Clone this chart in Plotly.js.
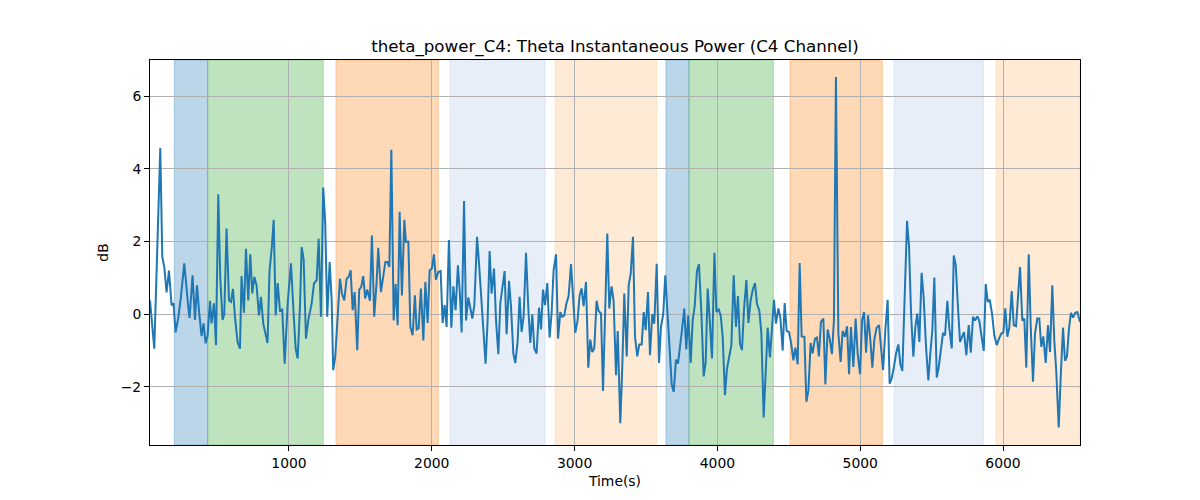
<!DOCTYPE html>
<html><head><meta charset="utf-8">
<script src="https://cdn.plot.ly/plotly-3.0.1.min.js"></script>
<style>body{margin:0;background:#fff;} #chart{width:1200px;height:500px;}</style>
</head><body><div id="chart"></div>
<script>
const chartTitle = "theta_power_C4: Theta Instantaneous Power (C4 Channel)";
const xLabel = "Time(s)";
const yLabel = "dB";
const xRange = [27, 6539];
const yRange = [-3.6, 7.0];

const times = [
27,57,99,113,127,143,160,178,192,206,225,244,267,283,295,304,325,342,356,370,379,388,402,416,430,447,458,475,489,505,519,535,547,563,580,594,608,622,640,657,668,685,699,715,729,743,757,773,790,804,820,836,850,864,879,893,907,921,937,953,970,991,1014,1033,1047,1061,1077,1089,1103,
1119,1135,1159,1175,1194,1208,1224,1240,1254,1268,1285,1299,1310,1324,1341,1357,1371,1387,1404,1418,1432,1446,1460,1478,1492,1506,1520,1534,1548,1567,1581,1597,1614,1625,1644,1661,1675,1689,1703,1717,1733,1747,1761,1775,1791,1808,1819,1836,1850,1866,1882,1894,1908,1924,1941,1955,1971,1985,2001,2015,2029,2046,2062,2076,2090,2104,2120,2137,2151,2167,2183,
2197,2209,2226,2240,2256,2270,2284,2298,2317,2331,2349,2363,2377,2391,2405,2419,2436,2450,2466,2480,2496,2510,2524,2541,2555,2571,2585,2601,2615,2629,2643,2660,2676,2690,2704,2718,2734,2751,2765,2779,2793,2809,2825,2839,2853,2870,2884,2900,2914,2928,2942,2958,2975,2991,3005,3021,3035,3049,3063,3080,3096,3110,3124,3138,3154,3168,3185,3199,3215,3229,3243,3259,3273,
3290,3302,3320,3334,3348,3365,3379,3393,3409,3423,3439,3453,3470,3484,3498,3514,3528,3544,3558,3575,3591,3605,3621,3635,3649,3663,3680,3694,3710,3724,3738,3752,3768,3782,3796,3813,3827,3841,3857,3871,3888,3904,3918,3932,3948,3962,3979,3993,4009,4023,4037,4053,4067,4081,4098,4114,4130,4144,4158,4172,4186,4203,4217,4233,4247,4263,4277,4294,4308,4324,4338,4352,4368,
4396,4410,4427,4441,4457,4471,4485,4501,4515,4532,4546,4562,4576,4590,4609,4623,4637,4653,4667,4683,4697,4711,4725,4742,4756,4772,4786,4802,4816,4830,4847,4863,4877,4894,4908,4922,4935,4952,4968,4982,4999,5013,5027,5041,5055,5071,5085,5099,5115,5132,5146,5160,5176,5192,5206,5220,5234,5251,5267,5281,5295,5311,5328,5342,5356,5372,5386,5400,5414,5430,5444,
5461,5477,5491,5505,5519,5536,5550,5564,5580,5594,5610,5624,5641,5655,5669,5683,5699,5713,5727,5743,5760,5774,5790,5804,5820,5834,5848,5865,5879,5893,5907,5923,5939,5956,5972,5988,6002,6016,6030,6044,6061,6075,6091,6105,6119,6135,6149,6163,6180,6194,6210,6224,6240,6254,6268,6282,6299,6315,6329,6345,6359,6373,6390,6404,6420,6434,6448,6462,6476,6490,6506,6520,6539
];
const power = [
0.38,-0.95,4.58,1.58,1.3,0.6,1.2,0.25,0.3,-0.5,-0.1,0.5,1.4,0.6,0.2,-0.1,1.07,-0.16,0.8,0.1,-0.35,-0.6,-0.25,-0.8,-0.6,0.37,-0.25,0.3,-0.85,3.3,1.0,-0.16,0.0,2.36,0.38,0.34,0.7,-0.07,-0.76,-0.95,1.05,0.04,1.8,0.38,1.65,0.57,1.03,0.8,-0.03,0.48,-0.26,-0.6,-0.79,1.2,1.8,2.6,-0.03,0.86,0.1,0.13,-1.36,0.3,1.4,0.0,-0.95,-1.22,0.2,1.85,1.5,
-0.67,-0.17,0.3,0.84,0.94,2.08,-0.07,3.49,2.5,-0.07,1.44,0.38,-1.54,-1.17,-0.07,0.98,0.57,0.38,0.98,1.03,1.21,0.11,0.61,-0.99,0.68,0.75,1.05,0.43,0.68,0.37,2.17,-0.07,0.89,1.83,0.61,1.03,1.44,1.44,1.3,4.53,-0.17,0.83,-0.3,2.82,0.52,2.6,1.99,2.0,-0.35,-0.58,0.52,-0.42,-0.39,0.71,-0.72,0.89,-0.24,1.21,1.26,1.65,0.95,1.17,1.19,-0.24,0.25,-0.35,2.04,-0.37,0.77,0.11,1.35,
0.57,-0.5,3.12,-0.17,0.46,0.16,-0.12,0.25,2.13,1.39,0.39,-0.53,-1.36,-0.17,1.74,0.57,1.26,-0.17,-1.1,0.31,0.71,1.19,-0.55,0.92,0.2,-1.08,-1.34,-0.76,0.48,-0.49,-0.07,1.69,0.16,-0.79,0.0,-0.94,-1.08,0.18,-0.42,0.68,0.25,0.86,-0.64,0.02,1.21,1.65,-0.67,0.06,-0.07,-0.03,0.28,0.5,1.38,0.48,-0.51,-0.17,0.52,0.71,0.22,0.89,-1.47,-0.7,-1.04,-0.94,0.37,0.09,0.02,-2.11,0.02,2.22,0.16,0.77,0.39,
-1.68,-0.46,-3.0,-1.45,0.57,-1.16,0.8,1.12,2.13,-0.62,-1.16,-0.83,-0.83,0.06,-0.44,0.61,-1.13,0.0,-0.26,1.39,-1.34,-0.35,0.02,1.07,0.02,-0.99,-1.93,-2.14,-1.25,-1.36,-0.94,-0.44,0.16,-0.97,-0.03,-1.34,-0.17,0.22,1.19,1.38,0.02,-1.71,-1.31,0.71,-0.26,-1.22,1.69,0.06,0.13,-0.03,-0.62,-2.23,-1.5,-1.22,-0.85,1.07,-0.35,0.5,-0.81,-0.99,0.11,0.94,-0.24,0.39,0.66,0.86,0.29,0.09,-0.53,-2.84,-1.45,-0.37,-1.19,
0.4,-0.26,0.16,-0.1,-1.0,0.31,-0.46,-0.49,-0.76,-1.27,-0.92,-1.38,1.41,-0.61,-0.62,-2.41,-2.11,-0.79,-1.08,-0.67,-0.64,-1.16,-0.21,-0.12,-1.93,-0.42,-0.67,-1.1,-0.17,6.53,-0.53,-1.31,-0.46,-0.62,-0.33,-1.65,-0.35,-1.45,-0.12,-1.08,-1.65,-0.17,0.06,-1.06,-0.03,-0.72,-1.47,-0.7,-0.37,-0.3,-0.9,-1.54,-0.42,0.4,-1.91,-1.77,-1.5,-1.08,-0.83,-1.38,-1.56,0.57,2.57,1.85,0.02,-1.17,-0.35,0.02,-0.76,1.14,0.48,
-0.9,-1.82,-1.08,-0.44,1.01,-1.74,-1.45,-0.99,-0.51,-0.58,0.37,-0.39,-0.94,1.62,1.35,0.29,-0.76,-0.62,-0.49,-1.13,-0.3,-1.06,-0.07,-0.17,-0.06,-0.18,-0.53,-1.01,0.83,0.34,0.4,0.02,-0.58,-0.85,-0.67,-0.53,-0.51,0.16,-0.62,-0.37,0.64,-0.3,-0.33,0.57,1.3,-0.17,-0.12,-1.47,1.65,-0.35,-1.86,-0.53,-0.12,-0.12,-0.9,-0.61,-1.34,-0.3,-1.04,0.8,-0.72,-1.59,-3.12,-1.72,-0.37,-1.28,-1.16,-0.39,0.04,-0.09,0.04,0.06,-0.21
];
const spanStarts = [197, 431, 1329, 2127, 2863, 3640, 3801, 4508, 5237, 5951];
const spanEnds   = [431, 1240, 2046, 2793, 3575, 3801, 4392, 5155, 5865, 6539];
const spanColors = ['#1f77b4','#2ca02c','#ff7f0e','#aec7e8','#ffbb78','#1f77b4','#2ca02c','#ff7f0e','#aec7e8','#ffbb78'];
const xTicks = [1000, 2000, 3000, 4000, 5000, 6000];
const yTicks = [-2, 0, 2, 4, 6];

function rgba(hex, a) {
  const r = parseInt(hex.slice(1,3),16), g = parseInt(hex.slice(3,5),16), b = parseInt(hex.slice(5,7),16);
  return `rgba(${r},${g},${b},${a})`;
}
const shapes = spanStarts.map((s, i) => ({
  type: 'rect', xref: 'x', yref: 'paper', x0: s, x1: spanEnds[i], y0: 0, y1: 1,
  fillcolor: rgba(spanColors[i], 0.3), line: {color: rgba(spanColors[i], 0.3), width: 1}, layer: 'below'
}));

const font = {family: 'DejaVu Sans', size: 13.9, color: '#000'};
const axisCommon = {
  showline: true, mirror: true, linecolor: '#000', linewidth: 1,
  ticks: 'outside', ticklen: 5, tickwidth: 1, tickcolor: '#000',
  showgrid: true, gridcolor: '#b0b0b0', gridwidth: 1, zeroline: false,
  tickfont: font
};
const layout = {
  width: 1200, height: 500,
  margin: {l: 150, r: 120, t: 60, b: 55},
  paper_bgcolor: '#fff', plot_bgcolor: 'rgba(0,0,0,0)',
  font: font,
  showlegend: false,
  title: {text: chartTitle, x: 0.5, xref: 'paper', xanchor: 'center', y: 1 - 46/500, yref: 'container', yanchor: 'middle', font: {family: 'DejaVu Sans', size: 16.7, color: '#000'}},
  xaxis: Object.assign({}, axisCommon, {range: xRange, tickvals: xTicks, title: {text: xLabel, font: font, standoff: 6}}),
  yaxis: Object.assign({}, axisCommon, {range: yRange, tickvals: yTicks, title: {text: yLabel, font: font, standoff: 8}}),
  shapes: shapes
};
const trace = {x: times, y: power, type: 'scatter', mode: 'lines', line: {color: '#1f77b4', width: 2}, hoverinfo: 'skip'};
Plotly.newPlot('chart', [trace], layout, {staticPlot: true, displayModeBar: false});
</script>
</body></html>
